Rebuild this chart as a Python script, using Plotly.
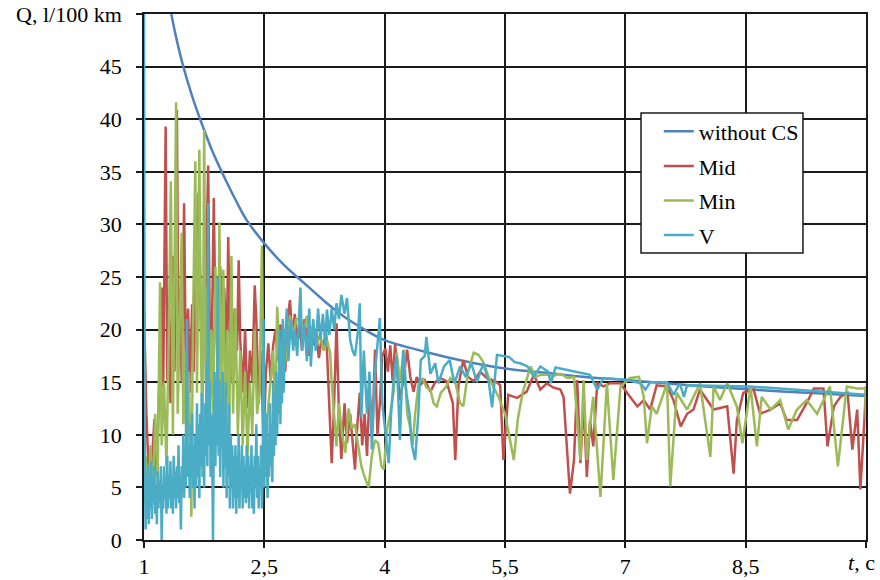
import plotly.graph_objects as go

# ---------------- data ----------------
X_TICKS = [1, 2.5, 4, 5.5, 7, 8.5, 10]
X_TICK_TEXT = ["1", "2,5", "4", "5,5", "7", "8,5", ""]
X_AXIS_TITLE = "<i>t</i>, c"
Y_TICKS = [0, 5, 10, 15, 20, 25, 30, 35, 40, 45, 50]
Y_TICK_TEXT = ["0", "5", "10", "15", "20", "25", "30", "35", "40", "45", "Q, l/100 km"]

WITHOUT_CS = [(1.34, 50), (1.40, 47.8), (1.49, 45), (1.60, 42.2), (1.70, 40), (1.85, 37), (2.0, 34.5),
              (2.15, 32.2), (2.28, 30.4), (2.5, 28.2), (2.75, 26.1), (3.0, 24.4), (3.25, 22.7), (3.5, 21.2),
              (3.75, 20.0), (4.0, 19.0), (4.5, 17.9), (5.0, 17.0), (5.5, 16.3), (6.0, 15.9), (6.5, 15.5),
              (7.0, 15.2), (7.5, 14.9), (8.0, 14.6), (8.5, 14.35), (9.0, 14.1), (9.5, 13.9), (10.0, 13.7)]

MID = [(1.00, 22), (1.03, 12), (1.07, 4), (1.10, 8), (1.13, 11.5), (1.16, 6), (1.19, 14), (1.22, 24), (1.24, 14.5),
       (1.27, 39.3), (1.29, 15), (1.31, 22), (1.33, 13), (1.36, 27), (1.38, 16), (1.41, 40.9), (1.43, 17), (1.45, 24),
       (1.47, 15), (1.50, 32), (1.52, 17), (1.55, 22), (1.57, 14), (1.60, 22.4), (1.62, 16), (1.64, 30), (1.66, 18),
       (1.68, 33), (1.71, 20), (1.74, 17), (1.77, 24), (1.80, 35.6), (1.82, 20), (1.84, 16), (1.87, 32.5), (1.89, 21),
       (1.92, 18), (1.95, 26), (1.97, 19.8), (2.00, 24), (2.03, 17), (2.05, 28.8), (2.07, 20), (2.10, 15), (2.13, 22),
       (2.16, 18), (2.18, 26.6), (2.20, 19), (2.23, 14), (2.26, 20), (2.29, 12.5), (2.32, 18), (2.35, 15), (2.38, 24.2),
       (2.40, 20.9), (2.43, 13), (2.46, 18), (2.49, 9), (2.52, 16), (2.55, 18.7), (2.58, 15), (2.61, 18.5), (2.64, 20),
       (2.67, 17), (2.70, 20.5), (2.73, 18), (2.76, 16), (2.79, 21), (2.82, 22.8), (2.85, 19), (2.88, 21.5), (2.91, 18.5),
       (2.94, 20.5), (2.97, 18), (3.00, 21), (3.03, 19), (3.06, 17.5), (3.09, 20), (3.12, 18.5), (3.15, 19.5),
       (3.18, 17.3), (3.21, 19), (3.24, 18.5), (3.27, 20), (3.30, 14), (3.34, 7.3), (3.37, 13), (3.40, 20.6), (3.43, 12),
       (3.46, 7.7), (3.50, 13), (3.53, 9.2), (3.57, 12), (3.60, 9), (3.63, 6.7), (3.66, 11), (3.69, 14), (3.72, 9),
       (3.75, 12), (3.78, 8), (3.81, 14), (3.85, 11), (3.88, 18.1), (3.91, 10), (3.94, 13), (3.97, 17.5), (4.01, 18.2),
       (4.04, 16), (4.07, 18.5), (4.10, 15), (4.13, 18.6), (4.19, 13.3), (4.23, 15), (4.28, 18.1), (4.32, 15.5),
       (4.36, 14.1), (4.40, 15.5), (4.44, 14.7), (4.50, 15.2), (4.57, 14.1), (4.63, 15), (4.69, 15.4), (4.77, 15.1),
       (4.85, 13), (4.88, 7.6), (4.92, 14.7), (4.98, 17.1), (5.04, 15.5), (5.11, 15.1), (5.19, 16.0), (5.27, 15.4),
       (5.38, 15.1), (5.44, 14.7), (5.48, 7.6), (5.54, 13.8), (5.65, 13.5), (5.77, 14.1), (5.86, 15.7), (5.94, 14.3),
       (6.02, 14.9), (6.10, 14.5), (6.19, 14.3), (6.23, 13.6), (6.31, 4.4), (6.36, 7.6), (6.40, 15.2), (6.44, 7.3),
       (6.48, 13.3), (6.52, 6.0), (6.56, 11.4), (6.60, 8.9), (6.65, 14.9), (6.73, 14.6), (6.81, 14.9), (6.94, 14.9),
       (7.02, 14.0), (7.15, 12.7), (7.23, 13.3), (7.31, 12.4), (7.39, 14.7), (7.52, 14.6), (7.60, 13.3), (7.69, 10.8),
       (7.77, 12.0), (7.85, 12.4), (7.93, 14.3), (8.02, 13.3), (8.10, 12.4), (8.27, 12.7), (8.35, 6.3), (8.39, 11.4),
       (8.47, 14.0), (8.60, 14.3), (8.68, 12.0), (8.81, 12.4), (8.93, 13.0), (9.01, 11.4), (9.14, 11.4), (9.26, 13.0),
       (9.35, 14.4), (9.47, 14.4), (9.52, 8.9), (9.60, 12.7), (9.68, 13.6), (9.77, 14.0), (9.83, 8.6), (9.89, 12.4),
       (9.93, 4.8), (9.98, 11.4), (10.0, 14.6)]

MIN = [(1.02, 8), (1.05, 2.2), (1.08, 9), (1.11, 4), (1.14, 12), (1.17, 6), (1.20, 24.5), (1.22, 9), (1.25, 15),
       (1.28, 7), (1.31, 20), (1.335, 34.1), (1.36, 10), (1.38, 25), (1.40, 41.6), (1.42, 12), (1.445, 22), (1.47, 29.2),
       (1.49, 11), (1.51, 18), (1.53, 8), (1.56, 16), (1.59, 2.2), (1.61, 20), (1.64, 36.0), (1.66, 14), (1.69, 37.1),
       (1.71, 18), (1.73, 10), (1.75, 39.0), (1.77, 15), (1.79, 24), (1.81, 9), (1.84, 20), (1.86, 12), (1.89, 26),
       (1.92, 14), (1.94, 30.2), (1.96, 13), (1.99, 25.7), (2.01, 11), (2.04, 20), (2.06, 9), (2.09, 27.0), (2.11, 12),
       (2.14, 22), (2.17, 10), (2.20, 18), (2.23, 9), (2.26, 16), (2.29, 8), (2.32, 15), (2.35, 10), (2.38, 20),
       (2.41, 12), (2.44, 14), (2.47, 28.0), (2.49, 13), (2.51, 9.3), (2.54, 12), (2.57, 14), (2.61, 18), (2.64, 12),
       (2.66, 22.2), (2.70, 15), (2.74, 20), (2.78, 17), (2.82, 21.3), (2.86, 19.5), (2.90, 21), (2.95, 21), (3.00, 20),
       (3.03, 21.3), (3.07, 19.5), (3.11, 20.5), (3.15, 18.5), (3.19, 19.5), (3.24, 18), (3.28, 19), (3.32, 17.8),
       (3.34, 14.9), (3.37, 12), (3.40, 8.9), (3.43, 13), (3.47, 10), (3.51, 8.3), (3.55, 12.5), (3.59, 10.6),
       (3.63, 11), (3.67, 9), (3.71, 7), (3.75, 6), (3.80, 5.0), (3.84, 8), (3.88, 9.5), (3.92, 9.2), (3.96, 7),
       (3.99, 6.7), (4.03, 10.6), (4.07, 12), (4.11, 14), (4.15, 17.8), (4.19, 15), (4.24, 18.1), (4.28, 12),
       (4.31, 11), (4.35, 9), (4.38, 12), (4.42, 14.7), (4.47, 15.4), (4.52, 14.5), (4.57, 14.3), (4.61, 13),
       (4.65, 12.7), (4.70, 14), (4.76, 14.5), (4.82, 15.4), (4.88, 15), (4.94, 13), (4.98, 12.7), (5.04, 16.0),
       (5.11, 17.8), (5.17, 17.6), (5.23, 16.9), (5.30, 15.4), (5.36, 14.5), (5.42, 13.6), (5.50, 12), (5.56, 9.5),
       (5.61, 7.6), (5.66, 11.5), (5.72, 14), (5.78, 15.5), (5.82, 16.5), (5.88, 15.5), (5.94, 15.7), (6.02, 15.7),
       (6.10, 15.6), (6.19, 15.8), (6.28, 15.4), (6.36, 15.5), (6.44, 7.6), (6.48, 15.2), (6.52, 7.6), (6.56, 11),
       (6.60, 13.6), (6.69, 4.1), (6.77, 14.9), (6.85, 5.7), (6.94, 14.6), (7.06, 15.4), (7.17, 15.5), (7.23, 13.6),
       (7.27, 9.2), (7.33, 12.7), (7.39, 12.0), (7.52, 14.9), (7.56, 5.1), (7.64, 14.0), (7.77, 12.4), (7.85, 13.6),
       (7.93, 14.9), (8.06, 7.9), (8.10, 14.6), (8.18, 13.3), (8.27, 14.9), (8.39, 12.7), (8.46, 9.2), (8.56, 14.6),
       (8.64, 8.9), (8.70, 13.6), (8.81, 12.4), (8.93, 13.3), (9.03, 10.5), (9.14, 12.4), (9.26, 13.3), (9.39, 12.0),
       (9.55, 14.6), (9.65, 7.0), (9.76, 14.6), (9.89, 14.4), (9.99, 14.4), (10.0, 11.4)]

V = [(1.000, 50), (1.005, 10), (1.010, 8), (1.020, 1), (1.030, 6), (1.040, 2), (1.050, 7), (1.060, 1.5), (1.070, 5.5),
     (1.080, 3), (1.090, 7.5), (1.100, 2), (1.110, 6), (1.120, 3.5), (1.130, 7), (1.140, 2.5), (1.150, 5), (1.160, 1.5),
     (1.170, 6.5), (1.180, 3), (1.190, 5.5), (1.200, 4), (1.210, 7), (1.220, 0), (1.230, 5), (1.240, 3), (1.250, 7),
     (1.260, 4), (1.270, 6), (1.280, 2.5), (1.290, 8), (1.300, 3), (1.310, 6), (1.320, 4), (1.330, 7.5), (1.340, 3),
     (1.350, 6), (1.360, 2.5), (1.370, 8), (1.380, 4), (1.390, 6.5), (1.400, 3), (1.410, 7), (1.420, 4), (1.430, 9),
     (1.440, 3.5), (1.450, 6), (1.460, 1), (1.470, 7), (1.480, 4.5), (1.490, 10), (1.500, 4), (1.510, 8), (1.520, 5),
     (1.535, 21), (1.545, 6), (1.560, 9), (1.570, 4), (1.580, 11), (1.590, 6), (1.600, 12), (1.610, 5), (1.620, 9),
     (1.630, 3), (1.640, 10), (1.650, 5), (1.660, 13), (1.670, 6), (1.680, 11), (1.690, 4), (1.700, 12), (1.710, 7),
     (1.720, 14), (1.730, 6), (1.740, 11), (1.750, 5), (1.760, 13), (1.770, 8), (1.780, 17), (1.790, 7), (1.800, 32),
     (1.810, 9), (1.820, 15), (1.830, 6), (1.840, 12), (1.850, 8), (1.860, 0), (1.870, 10), (1.880, 16), (1.890, 7),
     (1.900, 14), (1.910, 9), (1.920, 25), (1.930, 8), (1.940, 15), (1.950, 6), (1.960, 13), (1.970, 9), (1.980, 16),
     (1.990, 5), (2.000, 12), (2.010, 7), (2.020, 15), (2.030, 4), (2.040, 11), (2.050, 6), (2.060, 13), (2.070, 3),
     (2.080, 10), (2.090, 5), (2.100, 9), (2.110, 3), (2.120, 8), (2.130, 4), (2.140, 9), (2.150, 2.5), (2.160, 8),
     (2.170, 4), (2.180, 10), (2.190, 3), (2.200, 7), (2.210, 5), (2.220, 9), (2.230, 3), (2.240, 8), (2.250, 4),
     (2.260, 7), (2.270, 3.5), (2.280, 9), (2.290, 4), (2.300, 8), (2.310, 3), (2.320, 7), (2.330, 4.5), (2.340, 9),
     (2.350, 3), (2.360, 7), (2.370, 2.5), (2.380, 8), (2.390, 5), (2.400, 11), (2.410, 4), (2.420, 8), (2.430, 3),
     (2.440, 7), (2.450, 5), (2.460, 9), (2.470, 3), (2.480, 7), (2.490, 21), (2.500, 5), (2.510, 10), (2.520, 6),
     (2.530, 12), (2.540, 4), (2.550, 9), (2.560, 6), (2.570, 13), (2.580, 7), (2.590, 11), (2.600, 5.5), (2.610, 15),
     (2.620, 8), (2.630, 14), (2.640, 9), (2.650, 16), (2.660, 10), (2.670, 15), (2.680, 12), (2.690, 20), (2.700, 11),
     (2.710, 17), (2.720, 13), (2.730, 21), (2.740, 14), (2.760, 19), (2.78, 22), (2.80, 17), (2.83, 21), (2.86, 18),
     (2.88, 20), (2.91, 17.5), (2.95, 24), (2.97, 18), (3.00, 20.5), (3.03, 17), (3.06, 22), (3.08, 16.5), (3.11, 21),
     (3.14, 18), (3.17, 22), (3.20, 19), (3.23, 21.5), (3.26, 18.5), (3.28, 21.9), (3.31, 19.5), (3.34, 22), (3.37, 20),
     (3.40, 22.5), (3.43, 21), (3.46, 23.3), (3.50, 21.5), (3.53, 23), (3.57, 19), (3.60, 18), (3.63, 17.5), (3.67, 20),
     (3.69, 22.5), (3.71, 11.7), (3.74, 18), (3.78, 12), (3.81, 16), (3.84, 8.6), (3.88, 16), (3.91, 19), (3.94, 21.1),
     (3.97, 13), (4.01, 10), (4.05, 7.3), (4.08, 12), (4.12, 16), (4.15, 17.5), (4.19, 9.5), (4.23, 18), (4.27, 14),
     (4.31, 12), (4.34, 9), (4.38, 7.6), (4.42, 12), (4.45, 17.1), (4.50, 17.5), (4.52, 19.3), (4.57, 15.8),
     (4.63, 16.8), (4.67, 14.9), (4.74, 16.5), (4.81, 17.1), (4.87, 14.9), (4.94, 16.5), (5.01, 15.5), (5.08, 16.8),
     (5.15, 15), (5.23, 16.8), (5.30, 14.9), (5.34, 12.6), (5.40, 17.6), (5.55, 17.4), (5.62, 16.9), (5.69, 16.8),
     (5.78, 16.5), (5.86, 15.5), (5.94, 16.5), (6.04, 16.0), (6.07, 14.9), (6.13, 16.4), (6.56, 15.7), (6.65, 14.3),
     (6.73, 15.4), (7.02, 15.2), (7.19, 14.9), (7.25, 14.3), (7.31, 15.0), (7.52, 15.0), (7.60, 13.8), (7.68, 14.9),
     (7.73, 13.6), (7.77, 14.7), (8.55, 14.6), (9.30, 14.2), (10.0, 13.8)]

SERIES = [("without CS", WITHOUT_CS, "#4F81BD", "spline"),
          ("Mid", MID, "#C0504D", "linear"),
          ("Min", MIN, "#9BBB59", "linear"),
          ("V", V, "#4BACC6", "linear")]

# ---------------- figure ----------------
FONT = "Liberation Serif"
FS = 22
fig = go.Figure()
for name, pts, color, shape in SERIES:
    fig.add_trace(go.Scatter(
        x=[p[0] for p in pts], y=[p[1] for p in pts], name=name, mode="lines",
        line=dict(color=color, width=2.5, shape=shape), legendgroup=name))

axis_common = dict(showgrid=True, gridcolor="#1a1a1a", gridwidth=1.5, showline=True, linecolor="#1a1a1a",
                   linewidth=1.5, mirror=True, ticks="outside", ticklen=6, tickwidth=1.5, tickcolor="#1a1a1a",
                   zeroline=False, automargin=False,
                   tickfont=dict(family=FONT, size=FS, color="black"))
fig.update_xaxes(range=[1, 10], tickvals=X_TICKS, ticktext=X_TICK_TEXT, **axis_common)
fig.update_yaxes(range=[0, 50], tickvals=Y_TICKS, ticktext=Y_TICK_TEXT, ticklabelstandoff=10, **axis_common)

# legend frame (opaque box hiding the grid)
fig.add_shape(type="rect", xref="paper", yref="paper", x0=0.6884, x1=0.9127, y0=0.5456, y1=0.8118,
              fillcolor="white", line=dict(color="#1a1a1a", width=1.5), layer="above")

# x-axis end label at t = 10
fig.add_annotation(text=X_AXIS_TITLE, xref="paper", yref="paper", x=0.9937, y=0, xanchor="center",
                   yanchor="top", yshift=-8, showarrow=False, font=dict(family=FONT, size=FS, color="black"))

fig.update_layout(
    width=880, height=580,
    margin=dict(l=144, r=14, t=14, b=40),
    paper_bgcolor="white", plot_bgcolor="white",
    font=dict(family=FONT, size=FS, color="black"),
    showlegend=True,
    legend=dict(x=0.713, y=0.8165, xanchor="left", yanchor="top", bgcolor="rgba(0,0,0,0)",
                borderwidth=0, tracegroupgap=3, font=dict(family=FONT, size=FS, color="black")),
)

fig.write_html("out.html", config={"displayModeBar": False},
               post_script="document.body.style.margin='0';")
